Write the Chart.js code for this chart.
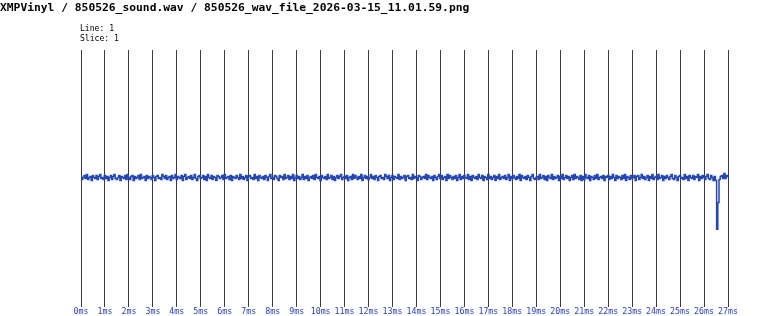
<!DOCTYPE html>
<html>
<head>
<meta charset="utf-8">
<script src="https://cdn.jsdelivr.net/npm/chart.js@4/dist/chart.umd.min.js"></script>
<style>
  body { margin: 0; background: #fff; }
  #wrap { position: relative; width: 768px; height: 316px; }
  .txt { position: absolute; font-family: "DejaVu Sans Mono", monospace; color: #000; white-space: pre; line-height: 1; }
  #title { left: 0; top: 2px; font-size: 11.3px; font-weight: bold; }
  #line1 { left: 80px; top: 24px; font-size: 8.1px; }
  #line2 { left: 80px; top: 34px; font-size: 8.1px; }
</style>
</head>
<body>
<div id="wrap">
  <canvas id="wave" width="768" height="316"></canvas>
  <div class="txt" id="title">XMPVinyl / 850526_sound.wav / 850526_wav_file_2026-03-15_11.01.59.png</div>
  <div class="txt" id="line1">Line: 1</div>
  <div class="txt" id="line2">Slice: 1</div>
</div>
<script>
// time range of the slice (ms) and sample spacing
const xMinMs = 0;
const xMaxMs = 27;
const sampleStepMs = 0.05;
const tickSuffix = "ms";

// amplitude range (8-bit style)
const ampMin = -128;
const ampMax = 128;

// samples, 20 per ms
const samples = [
  1,-2,0,2,-1,3,-2,0,1,-3,2,0,-1,2,-2,1,3,-1,0,-2,
  2,-1,1,-3,0,2,-2,1,3,-1,-2,0,2,-3,1,0,-1,2,-2,3,
  0,-2,1,2,-3,1,-1,0,2,-2,3,-1,0,1,-3,2,-1,1,0,-2,
  2,0,-3,1,2,-1,0,-2,3,1,-1,2,-2,0,1,-3,2,-1,0,3,
  -2,1,0,-1,2,-3,1,3,-2,0,1,-1,2,-2,0,3,-1,-3,1,2,
  -1,0,2,-2,1,-3,3,0,-1,2,-2,1,0,-3,2,1,-1,0,2,-2,
  3,-1,0,1,-2,2,-3,1,0,-1,2,0,-2,3,-1,1,-2,0,2,-3,
  1,2,-1,0,-2,3,-1,1,-3,2,0,-1,1,-2,2,0,-3,1,3,-1,
  0,-2,2,1,-1,-3,2,0,1,-2,3,-1,0,2,-2,1,-1,3,-3,0,
  2,-1,1,-2,0,3,-2,1,-1,2,-3,0,1,-1,2,-2,3,0,-1,1,
  -3,2,0,-1,1,-2,3,-1,0,2,-2,1,-3,0,2,-1,1,3,-2,0,
  1,-1,2,-3,0,1,-2,3,-1,2,0,-2,1,-1,3,-3,0,2,-1,1,
  -2,0,3,-1,1,-2,2,0,-3,1,2,-1,0,-2,3,1,-1,2,-3,0,
  2,-2,1,0,-1,3,-2,1,-1,0,2,-3,1,2,-1,0,-2,3,-1,1,
  0,-3,2,1,-2,0,1,-1,3,-2,2,0,-1,1,-3,2,0,-2,1,3,
  -1,2,-2,0,1,-3,3,-1,2,0,-2,1,-1,2,-3,0,3,-2,1,-1,
  2,0,-1,3,-2,1,-3,2,0,-1,1,-2,3,0,-1,2,-3,1,0,-2,
  3,-1,1,-2,0,2,-3,1,-1,3,-2,0,1,-1,2,-2,0,3,-3,1,
  -1,2,0,-2,1,-1,3,-3,2,0,-1,1,-2,2,0,-3,1,3,-1,-2,
  0,1,-2,3,-1,0,2,-2,1,-3,2,0,-1,3,-2,1,-1,0,2,-3,
  1,-1,3,-2,0,2,-1,1,-3,0,2,-2,3,-1,1,0,-2,2,-3,1,
  -2,3,0,-1,2,-3,1,0,-2,2,-1,3,-2,0,1,-1,2,-3,1,0,
  2,-2,1,-1,3,0,-3,2,-1,1,0,-2,2,-1,3,-3,1,0,-2,2,
  -1,0,2,-3,1,2,-2,0,3,-1,1,-2,0,2,-3,1,-1,3,-2,0,
  1,-2,3,-1,0,2,-3,1,-1,2,0,-2,1,3,-1,-2,2,0,-3,1,
  2,-1,0,-2,3,-1,1,-3,2,0,-1,2,-2,1,0,3,-3,1,-1,2,
  0,-2,1,3,-1,-2,2,0,-3,1,-3,-52,-25,-2,1,2,-1,4,-1,2,
  1
];

const points = samples.map((v, i) => ({ x: i * sampleStepMs, y: v }));

new Chart(document.getElementById("wave").getContext("2d"), {
  type: "line",
  data: {
    datasets: [{
      data: points,
      borderColor: "#2447b3",
      borderWidth: 1.5,
      pointRadius: 0,
      stepped: "middle",
      fill: false
    }]
  },
  options: {
    responsive: false,
    animation: false,
    parsing: false,
    layout: { padding: { left: 81, right: 40, top: 50, bottom: 0 } },
    plugins: { legend: { display: false }, tooltip: { enabled: false } },
    scales: {
      x: {
        type: "linear",
        min: xMinMs,
        max: xMaxMs,
        border: { display: false },
        grid: { color: "#3c3c3c", lineWidth: 1, tickLength: 2 },
        ticks: {
          stepSize: 1,
          padding: 0,
          maxRotation: 0,
          autoSkip: false,
          color: "#2a40c0",
          font: { family: "DejaVu Sans Mono", size: 8.3 },
          callback: (v) => v + tickSuffix
        },
        afterFit: (s) => { s.height = 11; }
      },
      y: {
        display: false,
        min: ampMin,
        max: ampMax
      }
    }
  }
});
</script>
</body>
</html>
